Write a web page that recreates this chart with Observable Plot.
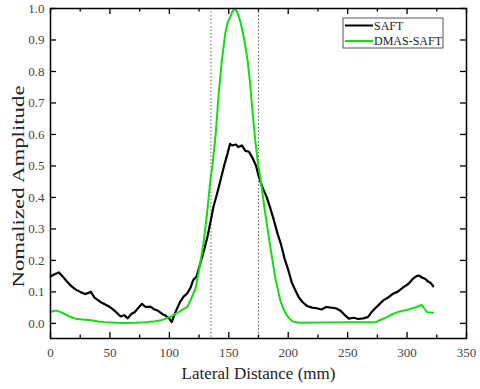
<!DOCTYPE html>
<html>
<head>
<meta charset="utf-8">
<script src="https://cdn.jsdelivr.net/npm/d3@7"></script>
<script src="https://cdn.jsdelivr.net/npm/@observablehq/plot@0.6"></script>
<style>
  html, body { margin: 0; padding: 0; background: white; }
</style>
</head>
<body>
<div id="chart"></div>
<script>
// ---- data ----
const seriesNames = ["SAFT", "DMAS-SAFT"];
const seriesColors = ["#000000", "#14dc14"];

const saftX = [0, 3, 7, 10, 14, 17, 21, 25, 29, 32, 34, 37, 42, 46, 50, 54, 59, 62, 65, 68, 71, 74, 77, 80, 84, 87, 90, 94, 97, 100, 102, 105, 109, 112, 115, 118, 120, 123, 126, 129, 132, 135, 137, 140, 143, 146, 149, 151, 153, 156, 158, 161, 164, 167, 170, 173, 175, 178, 182, 185, 188, 191, 194, 197, 200, 203, 206, 209, 212, 216, 220, 224, 228, 232, 236, 240, 244, 248, 251, 255, 259, 263, 267, 270, 273, 277, 280, 284, 288, 292, 297, 301, 305, 308, 310, 313, 315, 318, 320, 322];
const saftY = [0.149, 0.155, 0.162, 0.150, 0.132, 0.120, 0.108, 0.100, 0.093, 0.097, 0.100, 0.082, 0.068, 0.060, 0.052, 0.040, 0.022, 0.026, 0.016, 0.030, 0.036, 0.050, 0.062, 0.052, 0.053, 0.045, 0.041, 0.030, 0.024, 0.015, 0.004, 0.035, 0.068, 0.085, 0.095, 0.115, 0.137, 0.150, 0.190, 0.230, 0.274, 0.330, 0.369, 0.410, 0.454, 0.500, 0.540, 0.570, 0.565, 0.568, 0.560, 0.565, 0.548, 0.545, 0.525, 0.500, 0.470, 0.435, 0.400, 0.365, 0.327, 0.285, 0.250, 0.205, 0.170, 0.130, 0.105, 0.082, 0.068, 0.055, 0.050, 0.048, 0.044, 0.052, 0.050, 0.048, 0.040, 0.025, 0.015, 0.018, 0.014, 0.016, 0.020, 0.035, 0.047, 0.062, 0.073, 0.082, 0.094, 0.100, 0.115, 0.125, 0.142, 0.150, 0.152, 0.145, 0.142, 0.132, 0.128, 0.118];

const dmasX = [0, 3, 6, 9, 12.6, 16, 21, 27, 34, 40, 46, 55, 63, 72, 80, 88, 93, 97, 102, 105, 108, 111, 115, 118, 122, 124, 126, 129, 132, 134.5, 136.5, 139, 141.5, 144, 147, 149, 151.5, 153, 155, 157, 160, 162, 164, 166, 168, 170, 172.3, 174.5, 176.5, 180.7, 185, 189, 193.3, 196, 199, 202, 204.5, 210, 230, 250, 274, 277, 283, 288.5, 294, 300, 308, 312.3, 315, 317, 322];
const dmasY = [0.036, 0.040, 0.040, 0.035, 0.029, 0.022, 0.015, 0.012, 0.010, 0.006, 0.004, 0.002, 0.001, 0.002, 0.004, 0.007, 0.010, 0.015, 0.023, 0.030, 0.036, 0.044, 0.052, 0.075, 0.110, 0.150, 0.190, 0.263, 0.359, 0.454, 0.510, 0.602, 0.729, 0.830, 0.920, 0.955, 0.975, 0.990, 1.000, 0.990, 0.955, 0.920, 0.880, 0.830, 0.760, 0.670, 0.580, 0.510, 0.464, 0.348, 0.242, 0.147, 0.073, 0.045, 0.025, 0.012, 0.005, 0.002, 0.003, 0.004, 0.004, 0.010, 0.020, 0.031, 0.038, 0.043, 0.052, 0.059, 0.045, 0.035, 0.034];

const roiLines = [135, 175];
const xMajorTicks = [0, 50, 100, 150, 200, 250, 300, 350];
const xMinorTicks = [25, 75, 125, 175, 225, 275, 325];
const yTicks = [0.0, 0.1, 0.2, 0.3, 0.4, 0.5, 0.6, 0.7, 0.8, 0.9, 1.0];
const xTitle = "Lateral Distance (mm)";
const yTitle = "Nomalized Amplitude";

// ---- build ----
const saft = saftX.map((x, i) => ({x, y: saftY[i]}));
const dmas = dmasX.map((x, i) => ({x, y: dmasY[i]}));

const W = 480, H = 389;
const mL = 50, mR = 14, mT = 8, mB = 51;
const plotH = H - mT - mB;
const font = "'Liberation Serif', 'Times New Roman', serif";

const chart = Plot.plot({
  width: W, height: H,
  marginLeft: mL, marginRight: mR, marginTop: mT, marginBottom: mB,
  x: {domain: [0, 350]},
  y: {domain: [-0.048, 1.0]},
  style: {fontFamily: font, fontSize: "13px", color: "#444", background: "white", overflow: "visible"},
  marks: [
    Plot.ruleX(roiLines, {x: d => d, stroke: "#444", strokeWidth: 1, strokeDasharray: "1.2,2.4"}),
    Plot.line(saft, {x: "x", y: "y", stroke: seriesColors[0], strokeWidth: 2.2}),
    Plot.line(dmas, {x: "x", y: "y", stroke: seriesColors[1], strokeWidth: 2}),
    // inward ticks
    Plot.ruleX(xMajorTicks, {x: d => d, insetTop: plotH - 6, stroke: "black", strokeWidth: 1.3}),
    Plot.ruleX(xMinorTicks, {x: d => d, insetTop: plotH - 3.5, stroke: "black", strokeWidth: 1.3}),
    Plot.ruleX(xMajorTicks, {x: d => d, insetBottom: plotH - 6, stroke: "black", strokeWidth: 1.3}),
    Plot.ruleX(xMinorTicks, {x: d => d, insetBottom: plotH - 3.5, stroke: "black", strokeWidth: 1.3}),
    Plot.ruleY(yTicks, {y: d => d, insetRight: (W - mL - mR) - 6, stroke: "black", strokeWidth: 1.3}),
    Plot.ruleY(yTicks, {y: d => d, insetLeft: (W - mL - mR) - 6, stroke: "black", strokeWidth: 1.3}),
    Plot.axisX(xMajorTicks, {tickSize: 0, tickPadding: 9, tickFormat: d => String(d), label: null, fontSize: 13}),
    Plot.axisY(yTicks, {tickSize: 0, tickPadding: 6, tickFormat: d => d.toFixed(1), label: null, fontSize: 13}),
    Plot.frame({stroke: "black", strokeWidth: 1.5}),
    Plot.text([xTitle], {text: d => d, frameAnchor: "bottom", textAnchor: "middle", dy: 40, fontSize: 17, fill: "#222"}),
    Plot.text([yTitle], {text: d => d, frameAnchor: "left", textAnchor: "middle", rotate: -90, dx: -31.5, dy: 13, fontSize: 17, fill: "#222"})
  ]
});

document.getElementById("chart").appendChild(chart);

const svg = d3.select(chart);
// the y title in the reference is stretched along its length
svg.selectAll("text").filter(function() { return this.textContent === yTitle; })
  .attr("textLength", 202).attr("lengthAdjust", "spacingAndGlyphs");

// legend inside the plot (top-right)
const lg = svg.append("g").attr("font-family", font).attr("font-size", 12)
  .attr("fill", "#222").attr("text-anchor", "start");
const lx = 343, ly = 18, lw = 100, lh = 30;
lg.append("rect").attr("x", lx).attr("y", ly).attr("width", lw).attr("height", lh)
  .attr("fill", "white").attr("stroke", "#555").attr("stroke-width", 1);
seriesNames.forEach((name, i) => {
  const cy = ly + 7.5 + i * 15.5;
  lg.append("line").attr("x1", lx + 2).attr("x2", lx + 30).attr("y1", cy).attr("y2", cy)
    .attr("stroke", seriesColors[i]).attr("stroke-width", 2);
  lg.append("text").attr("x", lx + 31).attr("y", cy).attr("dy", "0.35em")
    .attr("text-anchor", "start").text(name);
});
</script>
</body>
</html>
